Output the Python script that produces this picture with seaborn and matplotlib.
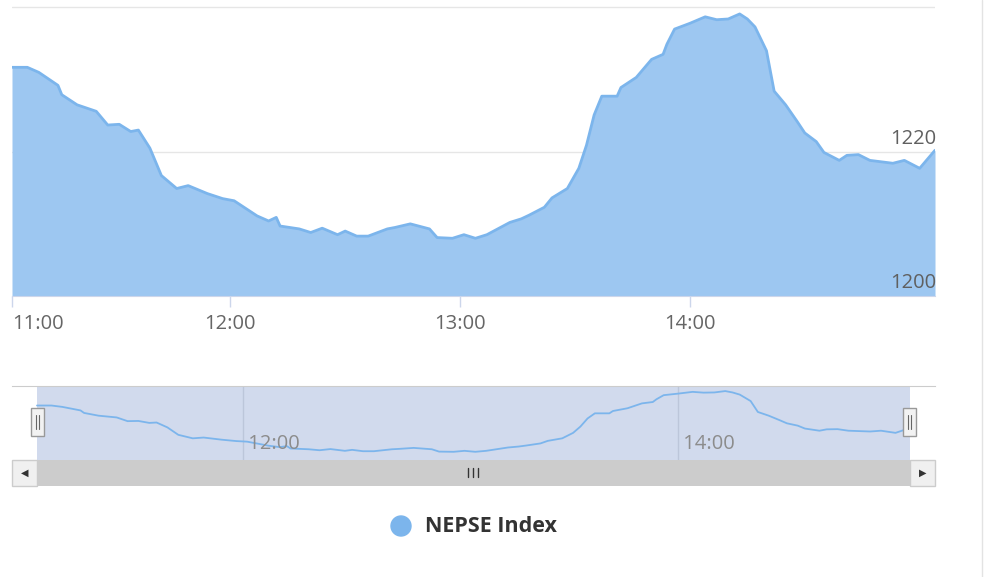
import matplotlib
matplotlib.use("Agg")
import matplotlib.pyplot as plt
from matplotlib.patches import Rectangle, Circle
import seaborn as sns

# NEPSE index, intraday
times = ["11:03", "11:07", "11:10", "11:15", "11:16", "11:20", "11:25", "11:28",
         "11:31", "11:34", "11:36", "11:39", "11:42", "11:46", "11:49", "11:54",
         "11:58", "12:01", "12:07", "12:10", "12:12", "12:13", "12:18", "12:21",
         "12:24", "12:28", "12:30", "12:33", "12:36", "12:41", "12:43", "12:47",
         "12:52", "12:54", "12:58", "13:01", "13:04", "13:07", "13:13", "13:16",
         "13:18", "13:22", "13:24", "13:28", "13:31", "13:33", "13:35", "13:37",
         "13:41", "13:42", "13:46", "13:50", "13:53", "13:54", "13:56", "13:59",
         "14:00", "14:04", "14:07", "14:10", "14:13", "14:15", "14:17", "14:20",
         "14:22", "14:25", "14:28", "14:30", "14:33", "14:35", "14:39", "14:41",
         "14:44", "14:47", "14:53", "14:56", "15:00", "15:04"]
values = [1231.7, 1231.7, 1231.0, 1229.2, 1227.9, 1226.5, 1225.6, 1223.7,
          1223.8, 1222.8, 1223.0, 1220.5, 1216.7, 1214.9, 1215.3, 1214.2,
          1213.5, 1213.2, 1211.1, 1210.4, 1210.9, 1209.7, 1209.3, 1208.8,
          1209.4, 1208.5, 1209.0, 1208.3, 1208.3, 1209.3, 1209.5, 1210.0,
          1209.3, 1208.1, 1208.0, 1208.5, 1208.0, 1208.5, 1210.2, 1210.7,
          1211.2, 1212.3, 1213.6, 1214.9, 1217.7, 1220.9, 1225.1, 1227.7,
          1227.7, 1228.9, 1230.3, 1232.8, 1233.5, 1234.9, 1237.0, 1237.6,
          1237.8, 1238.7, 1238.3, 1238.4, 1239.1, 1238.4, 1237.3, 1234.0,
          1228.4, 1226.5, 1224.2, 1222.6, 1221.4, 1219.9, 1218.8, 1219.5,
          1219.6, 1218.8, 1218.4, 1218.8, 1217.7, 1220.2]

main_ticks = ["11:00", "12:00", "13:00", "14:00"]
y_labels = [1200, 1220]
nav_ticks = ["12:00", "14:00"]
series_name = "NEPSE Index"

LINE = "#7cb5ec"
FILL = "#9dc7f1"


def to_hours(s):
    h, m = s.split(":")
    return int(h) + int(m) / 60


hours = [to_hours(t) for t in times]

sns.set_style("white")
plt.rcParams["font.family"] = ["Open Sans", "DejaVu Sans"]

W, H = 1000, 577
fig = plt.figure(figsize=(10, 5.77), dpi=100)


def box(x0, y0, x1, y1):
    # pixel box (top-left origin) -> figure fraction
    return [x0 / W, 1 - y1 / H, (x1 - x0) / W, (y1 - y0) / H]


# main chart
ax = fig.add_axes(box(12, 6, 935, 296))
ax.fill_between(hours, values, 1200, color=FILL, lw=0)
sns.lineplot(x=hours, y=values, ax=ax, color=LINE, lw=2)
ax.set_xlim(hours[0], hours[-1])
ax.set_ylim(1200, 1240.2)
ax.set_yticks([1220, 1240])
ax.yaxis.grid(True, color="#e6e6e6", lw=1)
ax.tick_params(axis="y", length=0, labelleft=False)
for v in y_labels:
    ax.annotate(str(v), xy=(1, v), xycoords=("axes fraction", "data"),
                xytext=(1, 2), textcoords="offset points",
                ha="right", va="bottom", fontsize=14.5, color="#606060")
tick_pos = [hours[0]] + [to_hours(t) for t in main_ticks[1:]]
ax.set_xticks(tick_pos)
ax.set_xticklabels(main_ticks)
ax.get_xticklabels()[0].set_ha("left")
ax.tick_params(axis="x", bottom=True, length=8, width=1, color="#ccd6eb",
               labelsize=14.5, labelcolor="#666666", pad=5)
for s in ["top", "left", "right"]:
    ax.spines[s].set_visible(False)
ax.spines["bottom"].set_color("#ccd6eb")
ax.set_xlabel("")
ax.set_ylabel("")

# navigator
nav = fig.add_axes(box(12, 386, 935, 460))
pad = 0.115
nav.set_xlim(hours[0] - pad, hours[-1] + pad)
nav.set_ylim(min(values) - 4.2, max(values) + 2.6)
nav.axvspan(hours[0], hours[-1], color="#d1daed", lw=0)
for t in nav_ticks:
    x = to_hours(t)
    nav.axvline(x, color="#bcc6da", lw=1)
    nav.text(x, 0.22, " " + t, transform=nav.get_xaxis_transform(),
             ha="left", va="center", fontsize=14.5, color="#8c8c8c")
sns.lineplot(x=hours, y=values, ax=nav, color=LINE, lw=1.3)
nav.set_xticks([])
nav.set_yticks([])
nav.set_xlabel("")
nav.set_ylabel("")
for s in ["bottom", "left", "right"]:
    nav.spines[s].set_visible(False)
nav.spines["top"].set_color("#cccccc")

# overlay in pixel coords for scrollbar, handles, legend
ov = fig.add_axes([0, 0, 1, 1], zorder=5)
ov.set_xlim(0, W)
ov.set_ylim(H, 0)
ov.axis("off")
ov.patch.set_alpha(0)

ov.add_patch(Rectangle((12, 460), 923, 26, facecolor="#f2f2f2", edgecolor="none"))
ov.add_patch(Rectangle((37, 460), 873, 26, facecolor="#cccccc", edgecolor="none"))
ov.add_patch(Rectangle((12, 460), 25, 26, facecolor="#f0f0f0", edgecolor="#cccccc", lw=1))
ov.add_patch(Rectangle((910, 460), 25, 26, facecolor="#f0f0f0", edgecolor="#cccccc", lw=1))
ov.text(24.5, 473, "◀", ha="center", va="center", fontsize=7, color="#333333",
        family="DejaVu Sans")
ov.text(922.5, 473, "▶", ha="center", va="center", fontsize=7, color="#333333",
        family="DejaVu Sans")
for gx in [468, 473, 478]:
    ov.plot([gx, gx], [468, 477], color="#333333", lw=1)

for hx in [31, 903]:
    ov.add_patch(Rectangle((hx, 408), 13, 28, facecolor="#f2f2f2",
                           edgecolor="#999999", lw=1))
    for dx in [5, 8]:
        ov.plot([hx + dx, hx + dx], [415, 429], color="#666666", lw=0.8)

# legend
ov.add_patch(Circle((401, 526), 10, color=LINE))
ov.text(425, 527, series_name, ha="left", va="center", fontsize=15.5,
        fontweight="bold", color="#333333")

# page border on the right
ov.plot([982, 982], [0, H], color="#e3e3e3", lw=1)

fig.savefig("out.png", dpi=100)
